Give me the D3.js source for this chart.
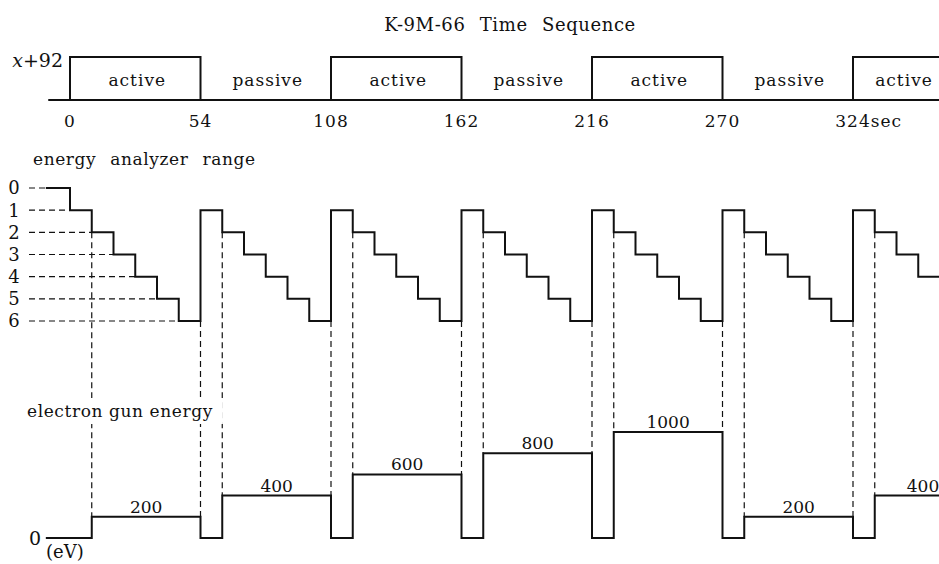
<!DOCTYPE html>
<html>
<head>
<meta charset="utf-8">
<script src="https://cdn.jsdelivr.net/npm/d3@7"></script>
<style>
body { margin: 0; background: #fff; }
text { font-family: "DejaVu Serif", serif; fill: #111; }
</style>
</head>
<body>
<div class="chart"></div>
<script>
var phaseStarts = [0, 54, 108, 162, 216, 270, 324];
var phaseLabels = ['active', 'passive', 'active', 'passive', 'active', 'passive', 'active'];
var phaseLength = 54;
var timeTicks = [0, 54, 108, 162, 216, 270, 324];
var timeTickLabels = ['0', '54', '108', '162', '216', '270', '324'];

var rangeLabels = ['0', '1', '2', '3', '4', '5', '6'];
var rangeTimes = [-10, 0, 9, 18, 27, 36, 45, 54, 63, 72, 81, 90, 99, 108, 117, 126, 135, 144, 153,
  162, 171, 180, 189, 198, 207, 216, 225, 234, 243, 252, 261, 270, 279, 288, 297, 306, 315, 324, 333, 342, 351];
var rangeLevels = [0, 1, 2, 3, 4, 5, 6, 1, 2, 3, 4, 5, 6, 1, 2, 3, 4, 5, 6, 1, 2, 3, 4, 5, 6,
  1, 2, 3, 4, 5, 6, 1, 2, 3, 4, 5, 6, 1, 2, 3, 4];

var gunTimes = [-10, 9, 54, 63, 108, 117, 162, 171, 216, 225, 270, 279, 324, 333, 378];
var gunValues = [0, 200, 0, 400, 0, 600, 0, 800, 0, 1000, 0, 200, 0, 400, 0];

var width = 939;
var height = 564;
var tEnd = 390;

var svg = d3.select('.chart')
  .append('svg')
  .attr('width', width)
  .attr('height', height)
  .style('display', 'block')
  .style('background', '#fff');

var xScale = d3.scaleLinear().domain([0, 324]).range([70, 853]);
var yTop = d3.scaleLinear().domain([0, 1]).range([100, 57]);
var yRange = d3.scaleLinear().domain([0, 6]).range([188, 321]);
var yGun = d3.scaleLinear().domain([0, 1000]).range([538, 432]);

function stepValue(times, values, t) {
  var i = d3.bisectRight(times, t) - 1;
  return values[Math.max(0, i)];
}

var stepLine = d3.line().curve(d3.curveStepAfter);

// title
svg.append('text')
  .attr('x', 510)
  .attr('y', 31)
  .attr('text-anchor', 'middle')
  .style('font-size', '18px')
  .style('letter-spacing', '0.6px')
  .style('word-spacing', '8px')
  .text('K-9M-66 Time Sequence');

//---------------------------- time sequence
svg.append('line')
  .attr('x1', xScale(-9)).attr('x2', xScale(tEnd))
  .attr('y1', yTop(0)).attr('y2', yTop(0))
  .style('stroke', '#111')
  .style('stroke-width', 2);

var phases = phaseStarts.map(function(s, i) { return { start: s, label: phaseLabels[i] }; });

svg.selectAll('.box')
  .data(phases.filter(function(d) { return d.label === 'active'; }))
  .enter()
  .append('rect')
  .attr('class', 'box')
  .attr('x', function(d) { return xScale(d.start); })
  .attr('y', yTop(1))
  .attr('width', function(d) { return xScale(d.start + phaseLength) - xScale(d.start); })
  .attr('height', yTop(0) - yTop(1))
  .style('fill', 'none')
  .style('stroke', '#111')
  .style('stroke-width', 2);

svg.selectAll('.phaseLabel')
  .data(phases)
  .enter()
  .append('text')
  .attr('class', 'phaseLabel')
  .attr('x', function(d) { return Math.min((xScale(d.start) + xScale(d.start + phaseLength)) / 2 + 2, width - 35); })
  .attr('y', 86)
  .attr('text-anchor', 'middle')
  .style('font-size', '17px')
  .style('letter-spacing', '1px')
  .text(function(d) { return d.label; });

var tickText = svg.selectAll('.tickLabel')
  .data(timeTicks)
  .enter()
  .append('text')
  .attr('class', 'tickLabel')
  .attr('x', function(d) { return xScale(d); })
  .attr('y', 127)
  .attr('text-anchor', 'middle')
  .style('font-size', '17px')
  .style('letter-spacing', '1px')
  .text(function(d, i) { return timeTickLabels[i]; });

var lastTick = tickText.filter(function(d, i) { return i === timeTicks.length - 1; });
var lastW = lastTick.node().getComputedTextLength();
lastTick.attr('text-anchor', 'start')
  .attr('x', xScale(324) - lastW / 2)
  .append('tspan').text('sec');

var xLabel = svg.append('text')
  .attr('x', 63)
  .attr('y', 67)
  .attr('text-anchor', 'end')
  .style('font-size', '19px');
xLabel.append('tspan').style('font-style', 'italic').text('x');
xLabel.append('tspan').text('+92');

//---------------------------- energy analyzer range
svg.append('text')
  .attr('x', 33)
  .attr('y', 165)
  .style('font-size', '17px')
  .style('letter-spacing', '0.6px')
  .style('word-spacing', '8px')
  .text('energy analyzer range');

svg.selectAll('.rangeLabel')
  .data(rangeLabels)
  .enter()
  .append('text')
  .attr('class', 'rangeLabel')
  .attr('x', 14)
  .attr('y', function(d, i) { return yRange(i); })
  .attr('dy', '0.36em')
  .attr('text-anchor', 'middle')
  .style('font-size', '18px')
  .text(function(d) { return d; });

svg.selectAll('.rangeGuide')
  .data(rangeLabels)
  .enter()
  .append('line')
  .attr('class', 'rangeGuide')
  .attr('x1', 29)
  .attr('x2', function(d, i) { return xScale(rangeTimes[rangeLevels.indexOf(i)]); })
  .attr('y1', function(d, i) { return yRange(i); })
  .attr('y2', function(d, i) { return yRange(i); })
  .style('stroke', '#111')
  .style('stroke-width', 1.2)
  .style('stroke-dasharray', '6,4');

// vertical dashed links between the two traces
var changeTimes = gunTimes.slice(1);

svg.selectAll('.link')
  .data(changeTimes)
  .enter()
  .append('line')
  .attr('class', 'link')
  .attr('x1', function(d) { return xScale(d); })
  .attr('x2', function(d) { return xScale(d); })
  .attr('y1', function(d) {
    return Math.max(yRange(stepValue(rangeTimes, rangeLevels, d)), yRange(stepValue(rangeTimes, rangeLevels, d - 0.01)));
  })
  .attr('y2', function(d) {
    return Math.min(yGun(stepValue(gunTimes, gunValues, d)), yGun(stepValue(gunTimes, gunValues, d - 0.01)));
  })
  .style('stroke', '#111')
  .style('stroke-width', 1.2)
  .style('stroke-dasharray', '6,4');

var rangePts = rangeTimes.map(function(t, i) { return [xScale(t), yRange(rangeLevels[i])]; });
rangePts.push([xScale(tEnd), yRange(rangeLevels[rangeLevels.length - 1])]);

svg.append('path')
  .attr('d', stepLine(rangePts))
  .style('fill', 'none')
  .style('stroke', '#111')
  .style('stroke-width', 2)
  .style('stroke-linejoin', 'miter');

//---------------------------- electron gun energy
var gunPts = gunTimes.map(function(t, i) { return [xScale(t), yGun(gunValues[i])]; });
gunPts.push([xScale(tEnd), yGun(gunValues[gunValues.length - 1])]);

svg.append('path')
  .attr('d', stepLine(gunPts))
  .style('fill', 'none')
  .style('stroke', '#111')
  .style('stroke-width', 2)
  .style('stroke-linejoin', 'miter');

var gunSegs = gunTimes.map(function(t, i) {
  return { start: t, end: i < gunTimes.length - 1 ? gunTimes[i + 1] : tEnd, value: gunValues[i] };
}).filter(function(d) { return d.value > 0; });

svg.selectAll('.gunLabel')
  .data(gunSegs)
  .enter()
  .append('text')
  .attr('class', 'gunLabel')
  .attr('x', function(d) { return Math.min((xScale(d.start) + xScale(d.end)) / 2, width - 16); })
  .attr('y', function(d) { return yGun(d.value) - 4; })
  .attr('text-anchor', 'middle')
  .style('font-size', '17px')
  .text(function(d) { return d.value; });

var gunTitle = svg.append('text')
  .attr('x', 27)
  .attr('y', 417)
  .style('font-size', '17px')
  .style('letter-spacing', '0.6px')
  .text('electron gun energy');
var gb = gunTitle.node().getBBox();
svg.insert('rect', function() { return gunTitle.node(); })
  .attr('x', gb.x - 2)
  .attr('y', gb.y - 3)
  .attr('width', gb.width + 12)
  .attr('height', gb.height + 6)
  .style('fill', '#fff');

svg.append('text')
  .attr('x', 41)
  .attr('y', yGun(0))
  .attr('dy', '0.36em')
  .attr('text-anchor', 'end')
  .style('font-size', '19px')
  .text('0');

svg.append('text')
  .attr('x', 46)
  .attr('y', 558)
  .style('font-size', '18px')
  .text('(eV)');
</script>
</body>
</html>
